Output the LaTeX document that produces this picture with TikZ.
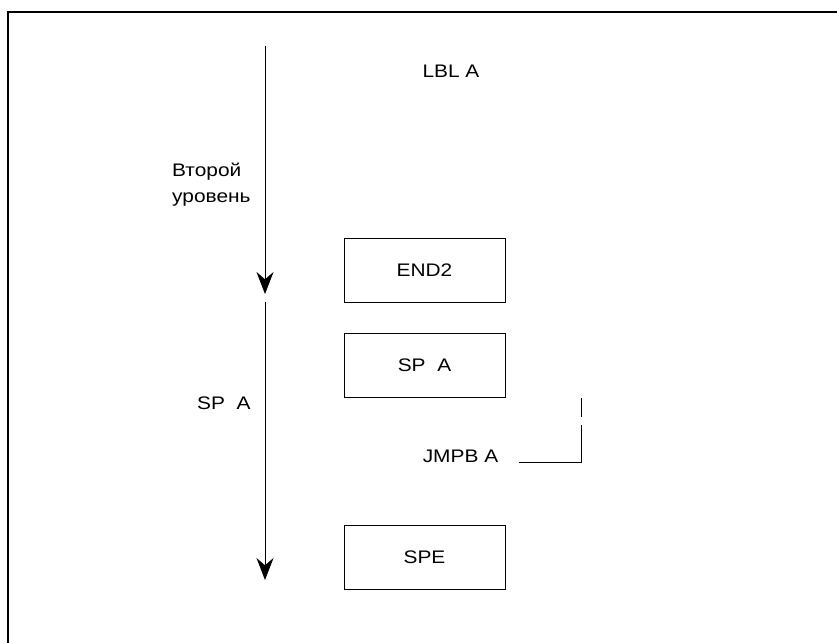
\documentclass[tikz,border=0pt]{standalone}
\usepackage{fontspec}
\setmainfont{Liberation Sans}[FakeStretch=1.15]
\usetikzlibrary{arrows.meta}

\begin{document}
\begin{tikzpicture}[
    x=0.3mm, y=-0.3mm,
    font=\fontsize{15.5}{18}\selectfont,
    stepbox/.style={rectangle, draw, line width=0.8pt, minimum width=161*0.3mm, minimum height=64*0.3mm, inner sep=0pt},
    label/.style={inner sep=0pt, anchor=base},
    flow/.style={-{Stealth[length=6.6mm, width=5.1mm, inset=2.2mm]}, line width=0.7pt}
]
\useasboundingbox (0,0) rectangle (837,642);

% Rahmen
\draw[line width=1.6pt] (8,650) -- (8,12) -- (850,12);

% Pfeile
\coordinate (top) at (265,46);
\coordinate (mid1) at (265,294);
\coordinate (mid2) at (265,302);
\coordinate (bot) at (265,580);
\draw[flow] (top) -- (mid1);
\draw[flow] (mid2) -- (bot);

% Texte
\node[label] (lbl) at (451,77) {LBL A};
\node[label, anchor=base west] (level1) at (172,176) {Второй};
\node[label, anchor=base west] (level2) at (172,202) {уровень};
\node[label, anchor=base west] (sub) at (197,409) {SP\ \ A};

% Boxen
\node[stepbox] (end2) at (424.5,270) {END2};
\node[stepbox] (spa) at (424.5,365.5) {SP\ \ A};
\node[stepbox] (spe) at (424.5,557) {SPE};

% Sprung
\node[label] (jmp) at (460.5,462) {JMPB A};
\coordinate (j1) at (519,462);
\coordinate (j2) at (581,462);
\coordinate (j3) at (581,425);
\coordinate (j4) at (581,417);
\coordinate (j5) at (581,398);
\draw[line width=0.7pt] (j1) -- (j2) -- (j3);
\draw[line width=0.7pt] (j4) -- (j5);

\end{tikzpicture}
\end{document}
